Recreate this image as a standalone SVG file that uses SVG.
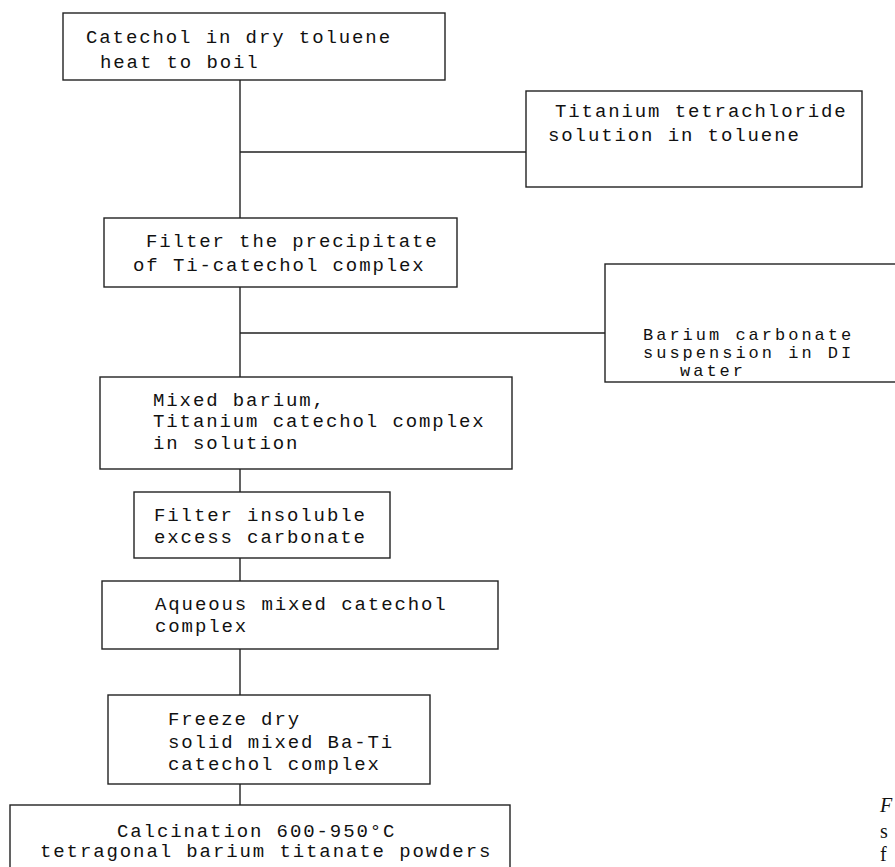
<svg xmlns="http://www.w3.org/2000/svg" width="895" height="867" viewBox="0 0 895 867">
<style>
.box{fill:#fff;stroke:#222;stroke-width:1.4}
.t{font-family:"Liberation Mono","DejaVu Sans Mono",monospace;font-size:19px;letter-spacing:1.9px;fill:#111}
.ts{font-family:"Liberation Mono","DejaVu Sans Mono",monospace;font-size:17px;letter-spacing:3px;fill:#111}
.cap{font-family:"Liberation Serif",serif;font-size:20px;fill:#111}
.ln{stroke:#222;stroke-width:1.4;fill:none}
</style>
<rect width="895" height="867" fill="#fff"/>
<g id="connectors">
<path class="ln" d="M240 80V218M240 152H526M240 287V377M240 333H605M240 469V492M240 558V581M240 649V695M240 784V805"/>
</g>
<g id="n1"><rect class="box" x="63" y="13" width="382" height="67"/>
<text class="t" x="86" y="43">Catechol in dry toluene</text>
<text class="t" x="100" y="68">heat to boil</text></g>
<g id="n2"><rect class="box" x="526" y="91" width="336" height="96"/>
<text class="t" x="555" y="117">Titanium tetrachloride</text>
<text class="t" x="548" y="141">solution in toluene</text></g>
<g id="n3"><rect class="box" x="104" y="218" width="353" height="69"/>
<text class="t" x="146" y="247">Filter the precipitate</text>
<text class="t" x="133" y="271">of Ti-catechol complex</text></g>
<g id="n4"><rect class="box" x="605" y="264" width="300" height="118"/>
<text class="ts" x="643" y="340">Barium carbonate</text>
<text class="ts" x="643" y="358">suspension in DI</text>
<text class="ts" x="680" y="376">water</text></g>
<g id="n5"><rect class="box" x="100" y="377" width="412" height="92"/>
<text class="t" x="153" y="406">Mixed  barium,</text>
<text class="t" x="153" y="427">Titanium catechol complex</text>
<text class="t" x="153" y="449">in solution</text></g>
<g id="n6"><rect class="box" x="134" y="492" width="256" height="66"/>
<text class="t" x="154" y="521">Filter insoluble</text>
<text class="t" x="154" y="543">excess carbonate</text></g>
<g id="n7"><rect class="box" x="102" y="581" width="396" height="68"/>
<text class="t" x="155" y="610">Aqueous mixed catechol</text>
<text class="t" x="155" y="632">complex</text></g>
<g id="n8"><rect class="box" x="108" y="695" width="322" height="89"/>
<text class="t" x="168" y="725">Freeze  dry</text>
<text class="t" x="168" y="748">solid mixed Ba-Ti</text>
<text class="t" x="168" y="770">catechol complex</text></g>
<g id="n9"><rect class="box" x="10" y="805" width="500" height="70"/>
<text class="t" x="117" y="837">Calcination 600-950°C</text>
<text class="t" x="40" y="857">tetragonal barium titanate powders</text></g>
<g id="caption">
<text class="cap" x="880" y="812" font-style="italic">F</text>
<text class="cap" x="880" y="838">s</text>
<text class="cap" x="880" y="861">f</text>
</g>
</svg>
